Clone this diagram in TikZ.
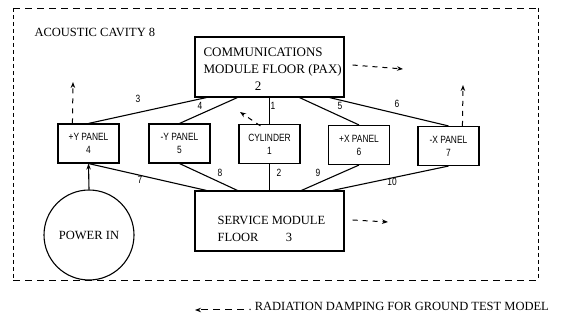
\documentclass[tikz,border=0pt]{standalone}
\usepackage{fontspec}
\setmainfont{Liberation Serif}
\newfontfamily\handfont[FakeStretch=0.8]{Liberation Sans}
\usetikzlibrary{arrows.meta}
\begin{document}
\begin{tikzpicture}[x=1pt,y=-1pt,
  line width=1.1pt,
  serif/.style={font=\fontsize{12.5}{15}\selectfont, inner sep=0pt},
  panel/.style={draw, line width=1.1pt, minimum width=61pt, minimum height=39pt, align=center, inner sep=0pt,
    font=\handfont\fontsize{10.5}{13}\selectfont},
  bigbox/.style={draw, line width=1.1pt, minimum width=149pt, minimum height=60pt, inner sep=0pt},
  lbl/.style={font=\handfont\fontsize{10.5}{12}\selectfont, inner sep=0pt},
  conn/.style={line width=1.1pt},
  rad/.style={line width=1pt, dash pattern=on 5pt off 5pt, -{Stealth[length=6pt,width=4.5pt]}},
  frameh/.style={dash pattern=on 7pt off 5pt, line width=0.9pt},
  framev/.style={dash pattern=on 4pt off 3pt, line width=0.9pt}
]
\useasboundingbox (0,0) rectangle (576,320);
% frame
\coordinate (f1) at (13,8);
\coordinate (f2) at (538,8);
\coordinate (f3) at (538,280);
\coordinate (f4) at (13,280);
\draw[frameh] (f1) -- (f2);
\draw[frameh] (f4) -- (f3);
\draw[framev] (f1) -- (f4);
\draw[framev] (f2) -- (f3);
\node[serif, anchor=west] (cav) at (34,32) {ACOUSTIC CAVITY 8};

% communications module
\node[bigbox] (comm) at (269.5,67) {};
\node[serif, font=\fontsize{13}{15}\selectfont, anchor=west] (commt1) at (203,52) {COMMUNICATIONS};
\node[serif, font=\fontsize{13}{15}\selectfont, anchor=west] (commt2) at (203,70) {MODULE FLOOR (PAX)};
\node[serif, font=\fontsize{13}{15}\selectfont] (commt3) at (258,86) {2};

% service module
\node[bigbox] (sm) at (269.5,221) {};
\node[serif, anchor=west] (smt1) at (217,220) {SERVICE MODULE};
\node[serif, anchor=west] (smt2) at (217,237) {FLOOR};
\node[serif] (smt3) at (289,237) {3};

% panels
\node[panel] (yp) at (88.5,143.5) {+Y PANEL\\4};
\node[panel] (ym) at (179.5,143.5) {-Y PANEL\\5};
\node[panel] (cyl) at (269.5,144) {CYLINDER\\1};
\node[panel] (xp) at (359,145) {+X PANEL\\6};
\node[panel] (xm) at (448.5,146) {-X PANEL\\7};

% power in
\node[draw, line width=1.1pt, circle, minimum size=90pt, inner sep=0pt, serif] (pw) at (89,235) {POWER IN};

% connectors top
\draw[conn] ([xshift=12pt]comm.south west) -- (yp.north);
\draw[conn] ([xshift=43pt]comm.south west) -- (ym.north);
\draw[conn] (comm.south) -- (cyl.north);
\draw[conn] ([xshift=105pt]comm.south west) -- (xp.north);
\draw[conn] ([xshift=135pt]comm.south west) -- (xm.north);
% connectors bottom
\draw[conn] (yp.south) -- ([xshift=12pt]sm.north west);
\draw[conn] (ym.south) -- ([xshift=43pt]sm.north west);
\draw[conn] (cyl.south) -- (sm.north);
\draw[conn] (xp.south) -- ([xshift=107pt]sm.north west);
\draw[conn] (xm.south) -- ([xshift=138pt]sm.north west);
% power arrow
\draw[conn, -{Stealth[length=6pt,width=4.5pt]}] (pw.north) -- (yp.south);

% connector labels
\node[lbl] (l3) at (138,99) {3};
\node[lbl] (l4) at (200,106) {4};
\node[lbl] (l1) at (273,106) {1};
\node[lbl] (l5) at (340,106) {5};
\node[lbl] (l6) at (397,104) {6};
\node[lbl] (l7) at (140,180) {7};
\node[lbl] (l8) at (220,173) {8};
\node[lbl] (l2) at (279,173) {2};
\node[lbl] (l9) at (318,173) {9};
\node[lbl] (l10) at (392,182) {10};

% radiation damping arrows
\coordinate (ryp) at (73,82);
\draw[rad] ([xshift=15pt]yp.north west) -- (ryp);
\coordinate (rxm) at (463,85);
\draw[rad] ([xshift=45pt]xm.north west) -- (rxm);
\coordinate (rcyl) at (240,112);
\draw[rad] ([xshift=22pt,yshift=-2pt]cyl.north west) -- (rcyl);
\coordinate (rcomm) at (403,69);
\draw[rad] ([xshift=8pt,yshift=2pt]comm.east) -- (rcomm);
\coordinate (rsm) at (388,222);
\draw[rad] ([xshift=8pt,yshift=1pt]sm.east) -- (rsm);

% legend
\coordinate (lgs) at (244,310);
\coordinate (lge) at (195,310);
\draw[rad, dash pattern=on 7pt off 5pt] (lgs) -- (lge);
\node[serif, anchor=west] (lgt) at (248,306) {.\ RADIATION DAMPING FOR GROUND TEST MODEL};
\end{tikzpicture}
\end{document}
